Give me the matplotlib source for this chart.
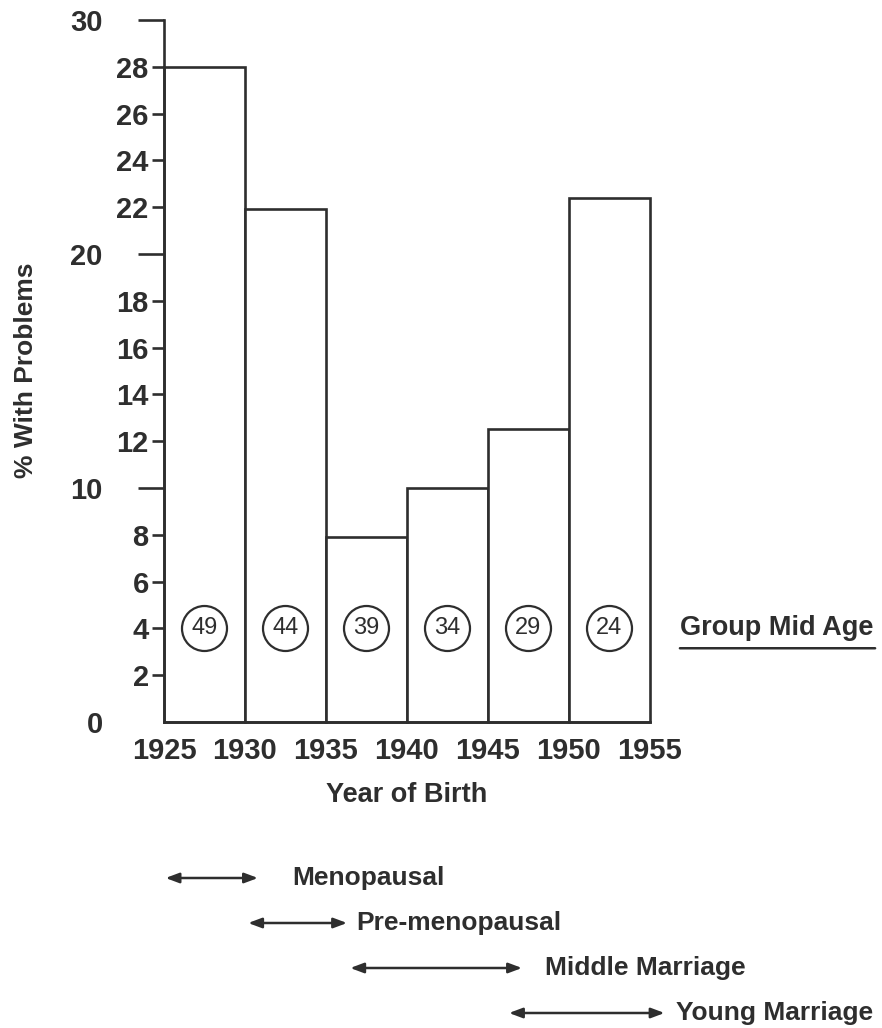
import matplotlib
matplotlib.use('Agg')
import matplotlib.pyplot as plt
import matplotlib.transforms as mtransforms
import numpy as np

# Data
year_edges = [1925, 1930, 1935, 1940, 1945, 1950, 1955]
pct_problems = [28.0, 21.9, 7.9, 10.0, 12.5, 22.4]
mid_ages = ['49', '44', '39', '34', '29', '24']

# life stage spans (years on the birth axis) shown as arrows under the chart
stage_names = ['Menopausal', 'Pre-menopausal', 'Middle Marriage', 'Young Marriage']
stage_start = [1925.1, 1930.2, 1936.5, 1946.3]
stage_end = [1930.8, 1936.3, 1947.1, 1955.9]
stage_label_x = [1932.9, 1936.9, 1948.5, 1956.6]

INK = '#2e2e2e'
plt.rcParams['font.family'] = ['Liberation Sans', 'DejaVu Sans']
plt.rcParams['font.weight'] = 'bold'
plt.rcParams['axes.labelweight'] = 'bold'
plt.rcParams['text.color'] = INK

fig = plt.figure(figsize=(8.82, 10.28), dpi=100)
ax = fig.add_axes([0.1859, 0.2977, 0.5510, 0.6829])

# bars (histogram style)
lefts = np.array(year_edges[:-1])
widths = np.diff(year_edges)
bars = ax.bar(lefts, pct_problems, width=widths, align='edge',
              facecolor='white', edgecolor=INK, linewidth=1.9, zorder=2)
for b in bars:
    b.set_clip_on(False)

ax.set_xlim(year_edges[0], year_edges[-1])
ax.set_ylim(0, 30)

for side in ['top', 'right']:
    ax.spines[side].set_visible(False)
for side in ['left', 'bottom']:
    ax.spines[side].set_color(INK)
    ax.spines[side].set_linewidth(1.9)

# x ticks: labels only
ax.set_xticks(year_edges)
ax.tick_params(axis='x', length=0, pad=11, labelsize=21, labelcolor=INK)

# y ticks: long ticks for 10s, short ones in between
ax.set_yticks([0, 10, 20, 30])
ax.set_yticks([v for v in range(2, 30, 2) if v % 10], minor=True)
ax.set_yticklabels(['0', '10', '20', '30'])
ax.set_yticklabels([str(v) for v in range(2, 30, 2) if v % 10], minor=True)
ax.tick_params(axis='y', which='major', length=19, width=1.9, color=INK,
               pad=25, labelsize=21, labelcolor=INK)
ax.tick_params(axis='y', which='minor', length=9, width=1.9, color=INK,
               pad=2, labelsize=21, labelcolor=INK)
ax.yaxis.get_major_ticks()[0].tick1line.set_visible(False)

ax.set_xlabel('Year of Birth', fontsize=19.5, labelpad=12, color=INK)
fig.text(0.030, 0.64, '% With Problems', rotation=90, fontsize=19,
         ha='center', va='center', color=INK)

# group mid age circles
centers = lefts + widths / 2
ax.scatter(centers, [4] * len(centers), s=1050, facecolor='white',
           edgecolor=INK, linewidth=1.6, zorder=3)
for cx, age in zip(centers, mid_ages):
    ax.text(cx, 4, age, ha='center', va='center', fontsize=17,
            fontweight='normal', color=INK, zorder=4)

ax.text(1956.85, 4, 'Group Mid Age', ha='left', va='center',
        fontsize=19.5, color=INK, clip_on=False)
ax.annotate('', xy=(1968.9, 3.15), xytext=(1956.85, 3.15),
            xycoords='data', annotation_clip=False,
            arrowprops=dict(arrowstyle='-', color=INK, lw=1.8,
                            shrinkA=0, shrinkB=0))

# life stage arrows below the chart
trans = mtransforms.blended_transform_factory(ax.transData, fig.transFigure)
row_y = [1 - 878 / 1028, 1 - 923 / 1028, 1 - 968 / 1028, 1 - 1013 / 1028]
for name, x0, x1, lx, yy in zip(stage_names, stage_start, stage_end,
                                stage_label_x, row_y):
    ax.annotate('', xy=(x1, yy), xytext=(x0, yy), xycoords=trans,
                textcoords=trans, annotation_clip=False,
                arrowprops=dict(arrowstyle='<|-|>,head_length=0.8,head_width=0.3',
                                color=INK, lw=1.8, shrinkA=0, shrinkB=0))
    ax.text(lx, yy, name, transform=trans, ha='left', va='center',
            fontsize=19, color=INK, clip_on=False)

fig.savefig('out.png', dpi=100, facecolor='white')
